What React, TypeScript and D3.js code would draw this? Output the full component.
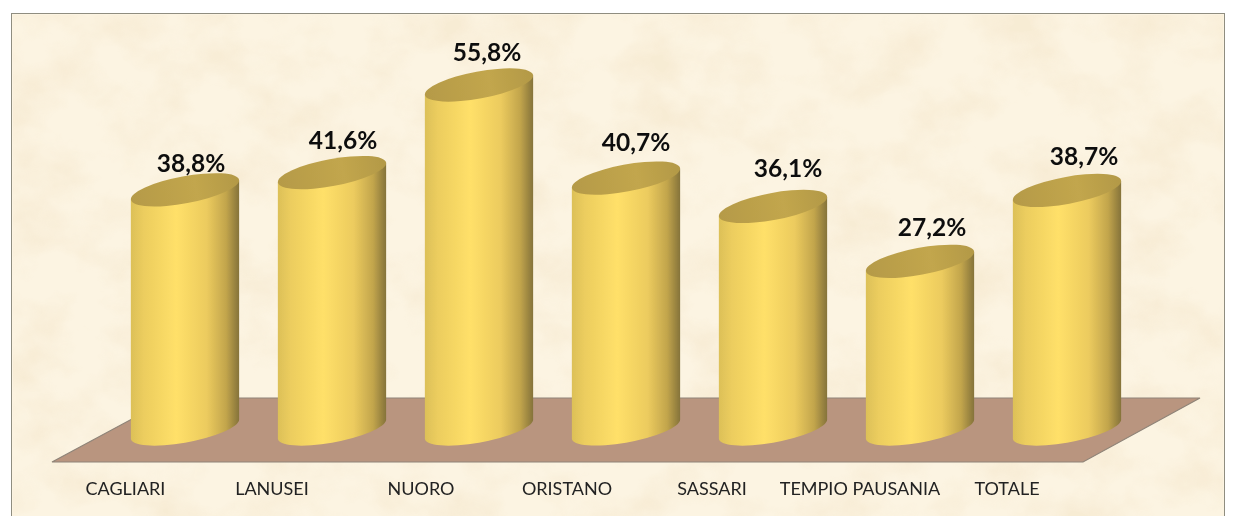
import React from "react";
import * as d3 from "d3";

const categories = ["CAGLIARI", "LANUSEI", "NUORO", "ORISTANO", "SASSARI", "TEMPIO PAUSANIA", "TOTALE"];
const values = [38.8, 41.6, 55.8, 40.7, 36.1, 27.2, 38.7];
const valueLabels = ["38,8%", "41,6%", "55,8%", "40,7%", "36,1%", "27,2%", "38,7%"];
const labelDx = [6, 11, 8, 10, 15, 12, 17];
const labelDy = [-27, -33, -34, -37, -39, -35, -35];
const catDx = [-59.5, -60, -58, -59, -61, -60, -60];

const W = 1235, H = 516;
const x = d3.scalePoint<number>().domain(d3.range(categories.length)).range([185, 1067]);
const y = d3.scaleLinear().domain([0, 55.8]).range([429, 85]);

const a = 55, b = 13.5, theta = (-10.5 * Math.PI) / 180;
const cosT = Math.cos(theta), sinT = Math.sin(theta);
const t0 = Math.atan2(-b * sinT, a * cosT);
const dxT = a * Math.cos(t0) * cosT - b * Math.sin(t0) * sinT;
const dyT = a * Math.cos(t0) * sinT + b * Math.sin(t0) * cosT;
const rotDeg = (theta * 180) / Math.PI;

function bodyPath(cx: number, top: number, bottom: number) {
  const lx = cx - dxT, rx = cx + dxT;
  return (
    `M${lx},${top - dyT}` +
    `L${lx},${bottom - dyT}` +
    `A${a},${b} ${rotDeg} 0 0 ${rx},${bottom + dyT}` +
    `L${rx},${top + dyT}Z`
  );
}

const floor = d3.line()([
  [52, 462],
  [171, 398],
  [1200, 398],
  [1083, 462],
]) + "Z";

export default function App() {
  return (
    <svg
      width={W}
      height={H}
      viewBox={`0 0 ${W} ${H}`}
      style={{ position: "absolute", left: 0, top: 0, background: "#fff" }}
      fontFamily="Lato, 'Open Sans', sans-serif"
    >
      <defs>
        <filter id="parch" x="0" y="0" width="100%" height="100%">
          <feTurbulence type="fractalNoise" baseFrequency="0.016 0.02" numOctaves={4} seed={7} result="n" />
          <feColorMatrix
            in="n"
            type="matrix"
            values="0 0 0 0 0.90  0 0 0 0 0.78  0 0 0 0 0.58  2.4 0 0 0 -0.95"
          />
        </filter>
        <linearGradient id="side" x1="0" x2="1" y1="0" y2="0">
          <stop offset="0" stopColor="#dcc058" />
          <stop offset="0.12" stopColor="#eccd5e" />
          <stop offset="0.42" stopColor="#ffe069" />
          <stop offset="0.7" stopColor="#eccb5e" />
          <stop offset="0.88" stopColor="#c2a54c" />
          <stop offset="1" stopColor="#85733a" />
        </linearGradient>
        <linearGradient id="top" x1="0" x2="1" y1="0" y2="0">
          <stop offset="0" stopColor="#b59a47" />
          <stop offset="0.6" stopColor="#c2a64d" />
          <stop offset="1" stopColor="#b39946" />
        </linearGradient>
        <filter id="soft" x="-5%" y="-5%" width="110%" height="110%">
          <feGaussianBlur stdDeviation="0.5" />
        </filter>
        <filter id="softText" x="-5%" y="-20%" width="110%" height="140%">
          <feGaussianBlur stdDeviation="0.3" />
        </filter>
      </defs>

      <rect x={11.5} y={13.5} width={1213} height={503} fill="#fcf4e2" stroke="#8f8d80" strokeWidth={1} />
      <rect x={13} y={15} width={1210} height={501} filter="url(#parch)" opacity={0.5} />

      <path d={floor} fill="#b9957f" stroke="#8f8478" strokeWidth={1.2} filter="url(#soft)" />

      <g filter="url(#soft)">
        {values.map((v, i) => {
          const cx = x(i)!;
          const top = y(v);
          return (
            <g key={categories[i]}>
              <path d={bodyPath(cx, top, y(0))} fill="url(#side)" />
              <ellipse
                cx={cx}
                cy={top}
                rx={a}
                ry={b}
                transform={`rotate(${rotDeg} ${cx} ${top})`}
                fill="url(#top)"
              />
            </g>
          );
        })}
      </g>

      <g filter="url(#softText)">
        {valueLabels.map((s, i) => (
          <text
            key={s + i}
            x={x(i)! + labelDx[i]}
            y={y(values[i]) + labelDy[i]}
            textAnchor="middle"
            dominantBaseline="central"
            fontSize={24.5}
            fontWeight={700}
            fill="#111"
          >
            {s}
          </text>
        ))}
        {categories.map((c, i) => (
          <text
            key={c}
            x={x(i)! + catDx[i]}
            y={488}
            textAnchor="middle"
            dominantBaseline="central"
            fontSize={18}
            fill="#222"
          >
            {c}
          </text>
        ))}
      </g>
    </svg>
  );
}
